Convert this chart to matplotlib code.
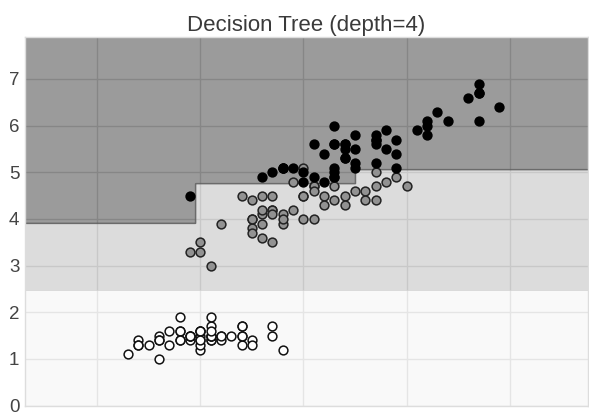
import matplotlib
matplotlib.use("Agg")
import matplotlib.pyplot as plt
import numpy as np

# iris: sepal length (x) vs petal length (y)
setosa_sl = [5.1, 4.9, 4.7, 4.6, 5.0, 5.4, 4.6, 5.0, 4.4, 4.9, 5.4, 4.8, 4.8, 4.3, 5.8, 5.7, 5.4,
             5.1, 5.7, 5.1, 5.4, 5.1, 4.6, 5.1, 4.8, 5.0, 5.0, 5.2, 5.2, 4.7, 4.8, 5.4, 5.2, 5.5,
             4.9, 5.0, 5.5, 4.9, 4.4, 5.1, 5.0, 4.5, 4.4, 5.0, 5.1, 4.8, 5.1, 4.6, 5.3, 5.0]
setosa_pl = [1.4, 1.4, 1.3, 1.5, 1.4, 1.7, 1.4, 1.5, 1.4, 1.5, 1.5, 1.6, 1.4, 1.1, 1.2, 1.5, 1.3,
             1.4, 1.7, 1.5, 1.7, 1.5, 1.0, 1.7, 1.9, 1.6, 1.6, 1.5, 1.4, 1.6, 1.6, 1.5, 1.5, 1.4,
             1.5, 1.2, 1.3, 1.5, 1.3, 1.5, 1.3, 1.3, 1.3, 1.6, 1.9, 1.4, 1.6, 1.4, 1.5, 1.4]
versicolor_sl = [7.0, 6.4, 6.9, 5.5, 6.5, 5.7, 6.3, 4.9, 6.6, 5.2, 5.0, 5.9, 6.0, 6.1, 5.6, 6.7, 5.6,
                 5.8, 6.2, 5.6, 5.9, 6.1, 6.3, 6.1, 6.4, 6.6, 6.8, 6.7, 6.0, 5.7, 5.5, 5.5, 5.8, 6.0,
                 5.4, 6.0, 6.7, 6.3, 5.6, 5.5, 5.5, 6.1, 5.8, 5.0, 5.6, 5.7, 5.7, 6.2, 5.1, 5.7]
versicolor_pl = [4.7, 4.5, 4.9, 4.0, 4.6, 4.5, 4.7, 3.3, 4.6, 3.9, 3.5, 4.2, 4.0, 4.7, 3.6, 4.4, 4.5,
                 4.1, 4.5, 3.9, 4.8, 4.0, 4.9, 4.7, 4.3, 4.4, 4.8, 5.0, 4.5, 3.5, 3.8, 3.7, 3.9, 5.1,
                 4.5, 4.5, 4.7, 4.4, 4.1, 4.0, 4.4, 4.6, 4.0, 3.3, 4.2, 4.2, 4.2, 4.3, 3.0, 4.1]
virginica_sl = [6.3, 5.8, 7.1, 6.3, 6.5, 7.6, 4.9, 7.3, 6.7, 7.2, 6.5, 6.4, 6.8, 5.7, 5.8, 6.4, 6.5,
                7.7, 7.7, 6.0, 6.9, 5.6, 7.7, 6.3, 6.7, 7.2, 6.2, 6.1, 6.4, 7.2, 7.4, 7.9, 6.4, 6.3,
                6.1, 7.7, 6.3, 6.4, 6.0, 6.9, 6.7, 6.9, 5.8, 6.8, 6.7, 6.7, 6.3, 6.5, 6.2, 5.9]
virginica_pl = [6.0, 5.1, 5.9, 5.6, 5.8, 6.6, 4.5, 6.3, 5.8, 6.1, 5.1, 5.3, 5.5, 5.0, 5.1, 5.3, 5.5,
                6.7, 6.9, 5.0, 5.7, 4.9, 6.7, 4.9, 5.7, 6.0, 4.8, 4.9, 5.6, 5.8, 6.1, 6.4, 5.6, 5.1,
                5.6, 6.1, 5.6, 5.5, 4.8, 5.4, 5.6, 5.1, 5.1, 5.9, 5.7, 5.2, 5.0, 5.2, 5.4, 5.1]

# split thresholds of the depth-4 tree
pl_setosa = 2.45
pl_mid = 4.75
sl_low = 4.95
pl_low = 3.9
pl_high = 5.05
sl_high = 6.5


def predict(sl, pl):
    out = np.full(sl.shape, 2)
    out[pl <= pl_setosa] = 0
    mid = (pl > pl_setosa) & (pl <= pl_mid)
    out[mid & (sl > sl_low)] = 1
    out[mid & (sl <= sl_low) & (pl <= pl_low)] = 1
    up = (pl > pl_mid) & (pl <= pl_high) & (sl > sl_high)
    out[up] = 1
    return out


plt.style.use("seaborn-v0_8-whitegrid")
plt.rcParams["font.family"] = ["Liberation Sans", "DejaVu Sans"]

fig = plt.figure(figsize=(5.89, 4.18), dpi=100)
ax = fig.add_axes([25 / 589, 12.5 / 418, 563 / 589, 368.5 / 418])

xx, yy = np.meshgrid(np.arange(3.3, 8.9, 0.01), np.arange(0.0, 7.9, 0.01))
zz = predict(xx, yy)
ax.contourf(xx, yy, zz, levels=[-0.5, 0.5, 1.5, 2.5],
            colors=["#f6f6f6", "#c6c6c6", "#585858"], alpha=0.6, zorder=1)
ax.contour(xx, yy, zz, levels=[1.5], colors="#555555", linewidths=1.2, alpha=0.6, zorder=2)

ax.scatter(setosa_sl, setosa_pl, s=40, c="white", edgecolors="#111111", linewidths=1.1, zorder=3)
ax.scatter(versicolor_sl, versicolor_pl, s=40, c="#929292", edgecolors="#222222", linewidths=1.1, zorder=3)
ax.scatter(virginica_sl, virginica_pl, s=40, c="black", edgecolors="black", linewidths=1.1, zorder=3)

ax.set_xlim(3.3, 8.76)
ax.set_ylim(0, 7.9)
ax.set_xticks([4, 5, 6, 7, 8])
ax.set_xticklabels([])
ax.set_yticks(range(8))
ax.tick_params(axis="y", labelsize=13.5, labelcolor="#444444", pad=4)
ax.grid(True, color="#cccccc", linewidth=1)
for s in ax.spines.values():
    s.set_color("#dddddd")
ax.set_title("Decision Tree (depth=4)", fontsize=16, color="#3a3a3a", pad=4)

fig.savefig("out.png", dpi=100)
